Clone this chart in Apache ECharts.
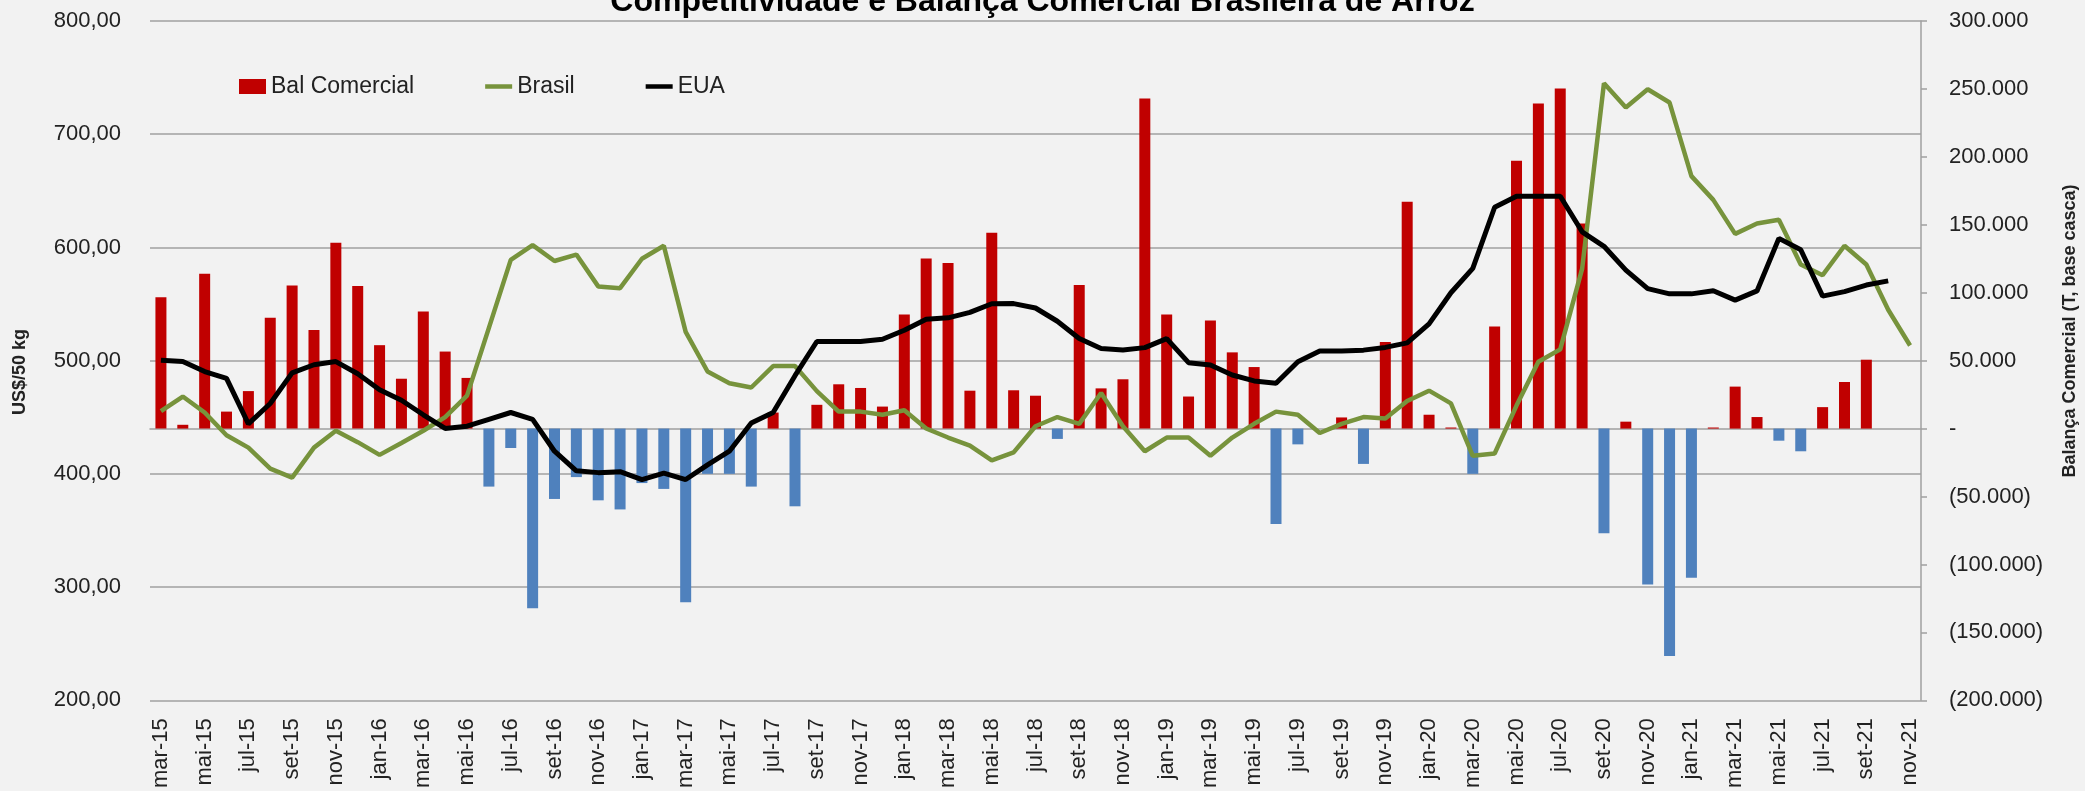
<!DOCTYPE html>
<html>
<head>
<meta charset="utf-8">
<title>Competitividade e Balança Comercial Brasileira de Arroz</title>
<script src="https://cdn.jsdelivr.net/npm/echarts@6/dist/echarts.min.js"></script>
<style>
  html, body { margin: 0; padding: 0; background: #f2f2f2; }
  #main { width: 2085px; height: 791px; }
</style>
</head>
<body>
<div id="main"></div>
<script>
// meses (mar-15 .. nov-21)
const months = [
  'mar-15','abr-15','mai-15','jun-15','jul-15','ago-15','set-15','out-15','nov-15','dez-15',
  'jan-16','fev-16','mar-16','abr-16','mai-16','jun-16','jul-16','ago-16','set-16','out-16','nov-16','dez-16',
  'jan-17','fev-17','mar-17','abr-17','mai-17','jun-17','jul-17','ago-17','set-17','out-17','nov-17','dez-17',
  'jan-18','fev-18','mar-18','abr-18','mai-18','jun-18','jul-18','ago-18','set-18','out-18','nov-18','dez-18',
  'jan-19','fev-19','mar-19','abr-19','mai-19','jun-19','jul-19','ago-19','set-19','out-19','nov-19','dez-19',
  'jan-20','fev-20','mar-20','abr-20','mai-20','jun-20','jul-20','ago-20','set-20','out-20','nov-20','dez-20',
  'jan-21','fev-21','mar-21','abr-21','mai-21','jun-21','jul-21','ago-21','set-21','out-21','nov-21'
];

// Balança comercial (t, base casca) - eixo direito
const balComercial = [
  96600, 2800, 114000, 12500, 27600, 81500, 105300, 72500, 136800, 105000,
  61400, 36700, 86200, 56700, 37300, -42700, -14300, -132300, -51800, -35700, -52800, -59500,
  -40100, -44400, -127900, -33300, -33300, -42700, 11800, -57200, 17500, 32600, 29900, 16200,
  83900, 125100, 121800, 27900, 144100, 28200, 24200, -7600, 105700, 29600, 36300, 243000,
  83900, 23600, 79500, 56100, 45300, -70300, -11600, 0, 8200, -26000, 63700, 166900,
  10200, 800, -33300, 75200, 197200, 239300, 250400, 150900, -77000, 5100, -114800, -167400,
  -109800, 800, 30900, 8500, -8900, -16700, 15800, 34300, 50700, null, null
];

// preços US$/50 kg - eixo esquerdo
const brasil = [
  455.5, 468.3, 454.2, 434.1, 423.2, 404.7, 396.7, 423.2, 438.1, 428,
  416.8, 427.3, 438.1, 450.2, 469.1, 529, 589, 602, 588, 593.7, 565.6, 564,
  590, 601.5, 525.4, 490.4, 480, 476.3, 495.2, 495.2, 473.1, 455, 455, 452.2,
  456.2, 440.1, 432.1, 424.9, 412, 419, 442.1, 450.2, 444.2, 471.5, 442.1, 420,
  432.1, 432.1, 416, 432.1, 444.2, 455, 452.2, 436.1, 444.2, 450.2, 449, 464.3,
  473.5, 462.3, 416, 418, 460.3, 499, 510, 581, 745, 723.6, 739.7, 728,
  663, 642, 612, 621.2, 624.5, 585, 575.5, 601.5, 585, 545, 513.4
];

const eua = [
  500.4, 499.2, 490.4, 484.4, 444.2, 462.2, 489.2, 496.4, 499.2, 488.4,
  474.3, 465, 452.2, 440.1, 442.1, 448.2, 454.2, 448.2, 420, 402.7, 401.1, 401.9,
  395, 400.7, 395, 407.9, 420, 445, 454.2, 486.7, 516.9, 516.9, 516.9, 518.9,
  526.9, 536.6, 537.8, 542.6, 550.3, 550.4, 546.5, 534.8, 519.5, 510.7, 509.5, 511.5,
  519.5, 498.2, 496.2, 487.3, 482.1, 480.1, 499, 508.5, 508.5, 509.3, 511.7, 515.7,
  532.5, 560, 581.5, 635.5, 645.2, 645.2, 645.2, 613.8, 601, 580, 563.6, 559,
  559, 561.8, 553.5, 561.6, 608, 598, 557, 561, 566.8, 570.5, null
];

const RED = '#c00000';
const BLUE = '#4f81bd';
const GREEN = '#77933c';
const FONT = 'Liberation Sans';
const TXT = '#222222';
const LINE_ICON = 'path://M0,0H30V5H0Z';

function milhar(v) {
  return String(v).replace(/\B(?=(\d{3})+(?!\d))/g, '.');
}

const chart = echarts.init(document.getElementById('main'));

const option = {
  backgroundColor: '#f2f2f2',
  animation: false,
  textStyle: { fontFamily: FONT },
  title: {
    text: 'Competitividade e Balança Comercial Brasileira de Arroz',
    left: 'center',
    top: -19,
    textStyle: { fontFamily: FONT, fontSize: 32, fontWeight: 'bold', color: '#000' }
  },
  legend: {
    left: 239,
    top: 75,
    padding: 0,
    itemGap: 71,
    itemWidth: 27,
    itemHeight: 15,
    symbolKeepAspect: true,
    textStyle: { fontFamily: FONT, fontSize: 23, color: TXT },
    data: [
      { name: 'Bal Comercial', icon: 'rect' },
      { name: 'Brasil', icon: LINE_ICON },
      { name: 'EUA', icon: LINE_ICON }
    ]
  },
  grid: { left: 150, right: 164, top: 21, bottom: 85 },
  xAxis: {
    type: 'category',
    data: months,
    boundaryGap: true,
    axisLine: { show: true, lineStyle: { color: '#a0a0a0', width: 1.5 } },
    axisTick: { show: false },
    axisLabel: {
      interval: 1,
      rotate: 90,
      margin: 18,
      fontFamily: FONT,
      fontSize: 22,
      color: TXT
    }
  },
  yAxis: [
    {
      type: 'value',
      position: 'left',
      min: 200,
      max: 800,
      interval: 100,
      axisLine: { show: false },
      axisTick: { show: false },
      splitLine: { show: true, lineStyle: { color: '#a0a0a0', width: 1.5 } },
      axisLabel: {
        margin: 29,
        fontFamily: FONT,
        fontSize: 22,
        color: TXT,
        formatter: v => v.toFixed(2).replace('.', ',')
      }
    },
    {
      type: 'value',
      position: 'right',
      min: -200000,
      max: 300000,
      interval: 50000,
      splitLine: { show: false },
      axisLine: { show: true, lineStyle: { color: '#a0a0a0', width: 1.5 } },
      axisTick: { show: true, inside: false, length: 6, lineStyle: { color: '#a0a0a0', width: 1.5 } },
      axisLabel: {
        margin: 28,
        fontFamily: FONT,
        fontSize: 22,
        color: TXT,
        formatter: v => v === 0 ? '-' : (v < 0 ? '(' + milhar(-v) + ')' : milhar(v))
      }
    }
  ],
  graphic: [
    {
      type: 'text',
      x: 20,
      y: 372,
      rotation: Math.PI / 2,
      style: {
        text: 'US$/50 kg',
        fill: TXT,
        font: 'bold 18px "' + FONT + '"',
        textAlign: 'center',
        textVerticalAlign: 'middle'
      }
    },
    {
      type: 'text',
      x: 2070,
      y: 331,
      rotation: Math.PI / 2,
      style: {
        text: 'Balança Comercial (T, base casca)',
        fill: TXT,
        font: 'bold 18px "' + FONT + '"',
        textAlign: 'center',
        textVerticalAlign: 'middle'
      }
    }
  ],
  series: [
    {
      name: 'Bal Comercial',
      type: 'bar',
      yAxisIndex: 1,
      barWidth: 11,
      itemStyle: { color: RED },
      data: balComercial.map(v => (v !== null && v < 0) ? { value: v, itemStyle: { color: BLUE } } : v)
    },
    {
      name: 'Brasil',
      type: 'line',
      yAxisIndex: 0,
      symbol: 'none',
      lineStyle: { color: GREEN, width: 4.5 },
      itemStyle: { color: GREEN },
      data: brasil
    },
    {
      name: 'EUA',
      type: 'line',
      yAxisIndex: 0,
      symbol: 'none',
      lineStyle: { color: '#000000', width: 5 },
      itemStyle: { color: '#000000' },
      data: eua
    }
  ]
};

chart.setOption(option);
</script>
</body>
</html>
